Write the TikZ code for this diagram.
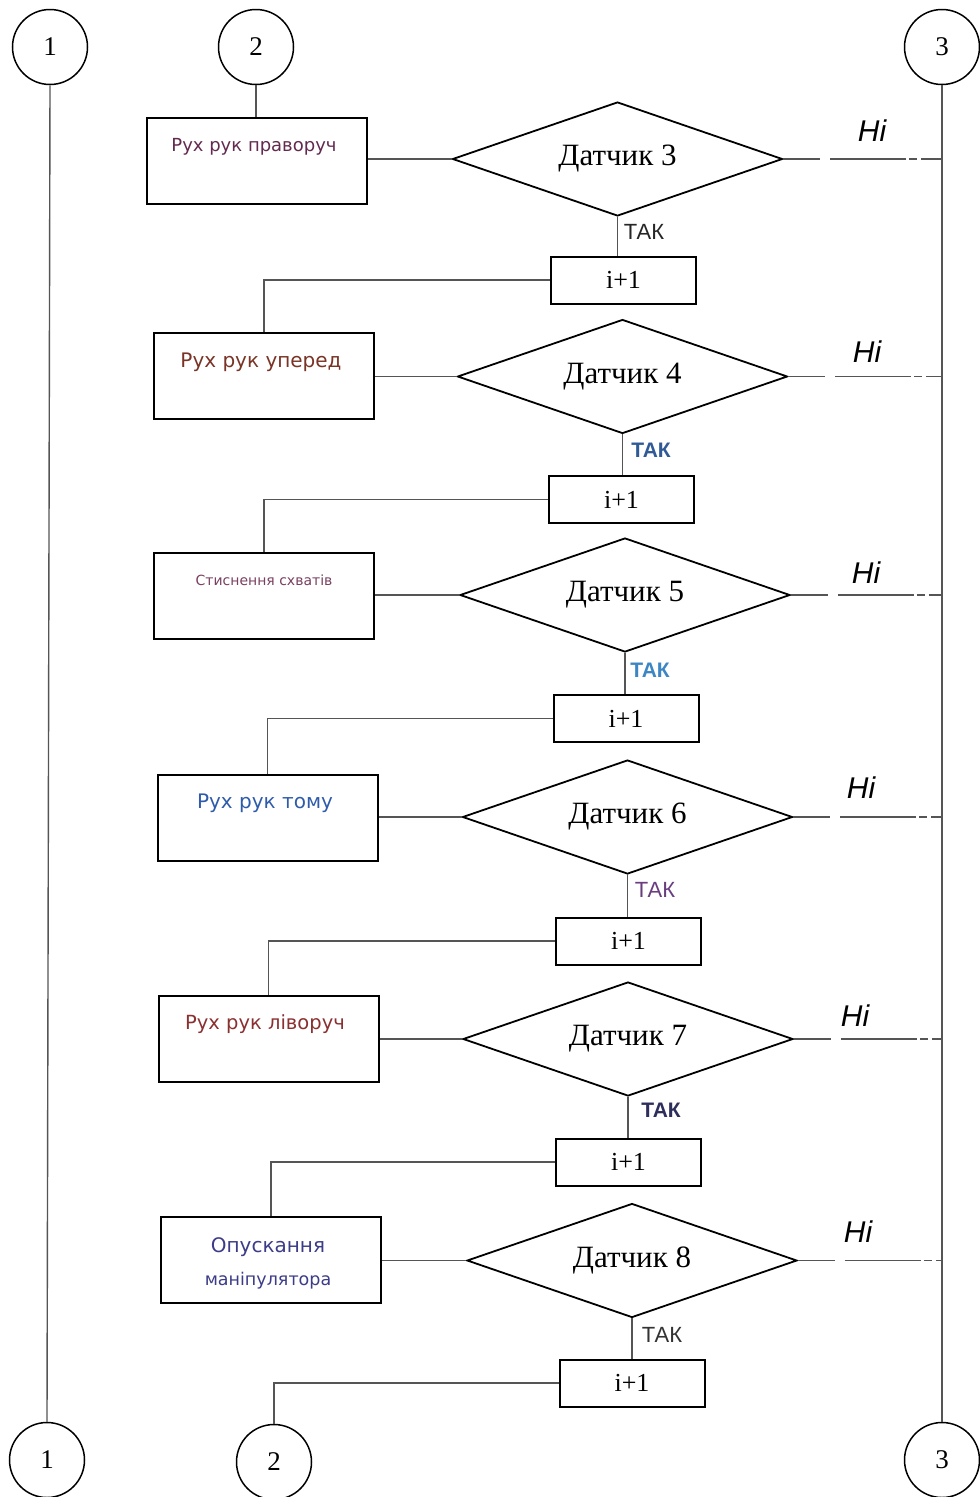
\documentclass[tikz,border=0pt]{standalone}
\usepackage{fontspec}
\setmainfont{Liberation Serif}
\newfontfamily\boxfont{DejaVu Sans}
\newfontfamily\lblfont{Liberation Sans}
\usetikzlibrary{shapes.geometric}
\definecolor{tA}{HTML}{63294F}
\definecolor{tB}{HTML}{7A3426}
\definecolor{tC}{HTML}{7A4060}
\definecolor{tD}{HTML}{2F5CAA}
\definecolor{tE}{HTML}{8A3030}
\definecolor{tF}{HTML}{3C3C88}
\definecolor{kB}{HTML}{2F5A95}
\definecolor{kC}{HTML}{3C86C4}
\definecolor{kD}{HTML}{6A3D7F}
\definecolor{kE}{HTML}{2E2E5C}
\definecolor{lnc}{HTML}{555555}
\begin{document}
\begin{tikzpicture}[x=1pt,y=-1pt,
  conn/.style={line width=1.4pt, draw=lnc},
  nilink/.style={conn, dash pattern=on 37pt off 10pt on 76pt off 3pt on 8pt off 4pt on 60pt},
  circ/.style={circle, draw, line width=1.5pt, minimum size=75pt, inner sep=0pt, font=\fontsize{27}{27}\selectfont},
  actbox/.style={rectangle, draw, line width=2pt, minimum width=220pt, minimum height=86pt, inner sep=0pt},
  dia/.style={diamond, draw, line width=1.8pt, shape aspect=2.9, minimum width=330pt, minimum height=114pt, inner sep=0pt, font=\fontsize{31}{31}\selectfont},
  incbox/.style={rectangle, draw, line width=2pt, minimum width=145pt, minimum height=47pt, inner sep=0pt, font=\fontsize{26}{26}\selectfont},
  acttxt/.style={inner sep=0pt, font=\boxfont\fontsize{19}{19}\selectfont},
  tak/.style={inner sep=0pt, font=\lblfont\fontsize{22}{22}\selectfont},
  takb/.style={inner sep=0pt, font=\lblfont\bfseries\fontsize{21}{21}\selectfont},
  ni/.style={inner sep=0pt, font=\lblfont\itshape\fontsize{30}{30}\selectfont}
]
\useasboundingbox (0,0) rectangle (980,1497);
\fill[white] (0,0) rectangle (980,1497);

% connector circles
\node[circ] (t1) at (50,47) {1};
\node[circ] (t2) at (256,47) {2};
\node[circ] (t3) at (942,47) {3};
\node[circ] (b1) at (47,1460) {1};
\node[circ] (b2) at (274,1462) {2};
\node[circ] (b3) at (942,1460) {3};

\draw[conn] (t1.south) -- (b1.north);
\draw[conn] (t3.south) -- (b3.north);

% row 1
\node[actbox] (a1) at (257,161) {};
\node[acttxt, text=tA, font=\boxfont\fontsize{18}{18}\selectfont] (a1t) at (254,147) {Рух рук праворуч};
\node[dia] (d1) at (617.5,159) {Датчик 3};
\node[incbox] (i1) at (623.5,280) {i+1};
\node[tak, text=black!85] (k1) at (644,232) {ТАК};
\node[ni] (n1) at (872,131) {Ні};

% row 2
\node[actbox] (a2) at (264,376) {};
\node[acttxt, text=tB, font=\boxfont\fontsize{20}{20}\selectfont] (a2t) at (261,362) {Рух рук уперед};
\node[dia] (d2) at (622.5,376.5) {Датчик 4};
\node[incbox] (i2) at (621.5,499.5) {i+1};
\node[takb, text=kB] (k2) at (651,450) {ТАК};
\node[ni] (n2) at (867,352) {Ні};

% row 3
\node[actbox] (a3) at (264,596) {};
\node[acttxt, text=tC, font=\boxfont\fontsize{14}{14}\selectfont] (a3t) at (264,580) {Стиснення схватів};
\node[dia] (d3) at (625,595) {Датчик 5};
\node[incbox] (i3) at (626,718.5) {i+1};
\node[takb, text=kC] (k3) at (650,670) {ТАК};
\node[ni] (n3) at (866,573) {Ні};

% row 4
\node[actbox] (a4) at (267.5,817.5) {};
\node[acttxt, text=tD, font=\boxfont\fontsize{20}{20}\selectfont] (a4t) at (265,803) {Рух рук тому};
\node[dia] (d4) at (627.5,817) {Датчик 6};
\node[incbox] (i4) at (628.5,941) {i+1};
\node[tak, text=kD] (k4) at (655,890) {ТАК};
\node[ni] (n4) at (861,788) {Ні};

% row 5
\node[actbox] (a5) at (268.5,1038.5) {};
\node[acttxt, text=tE, font=\boxfont\fontsize{19.5}{19.5}\selectfont] (a5t) at (265,1024) {Рух рук ліворуч};
\node[dia] (d5) at (628,1039) {Датчик 7};
\node[incbox] (i5) at (628.5,1162) {i+1};
\node[takb, text=kE] (k5) at (661,1110) {ТАК};
\node[ni] (n5) at (855,1016) {Ні};

% row 6
\node[actbox] (a6) at (271,1260) {};
\node[acttxt, text=tF, font=\boxfont\fontsize{20}{20}\selectfont] (a6t) at (268,1247) {Опускання};
\node[acttxt, text=tF, font=\boxfont\fontsize{17.5}{17.5}\selectfont] (a6u) at (268,1281) {маніпулятора};
\node[dia] (d6) at (632,1260.5) {Датчик 8};
\node[incbox] (i6) at (632,1383) {i+1};
\node[tak, text=black!80] (k6) at (662,1335) {ТАК};
\node[ni] (n6) at (858,1232) {Ні};

% links
\draw[conn] (t2.south) -- (t2.south |- a1.north);
\foreach \r/\n in {1/2,2/3,3/4,4/5,5/6} {
  \draw[conn] (a\r.east |- d\r.west) -- (d\r.west);
  \draw[conn] (d\r.south) -- (d\r.south |- i\r.north);
  \draw[conn] (i\r.west) -| (a\n.north);
  \draw[nilink] (d\r.east) -- (d\r.east -| t3.south);
}
\draw[conn] (a6.east |- d6.west) -- (d6.west);
\draw[conn] (d6.south) -- (d6.south |- i6.north);
\draw[conn] (i6.west) -| (b2.north);
\draw[nilink] (d6.east) -- (d6.east -| t3.south);
\end{tikzpicture}
\end{document}
